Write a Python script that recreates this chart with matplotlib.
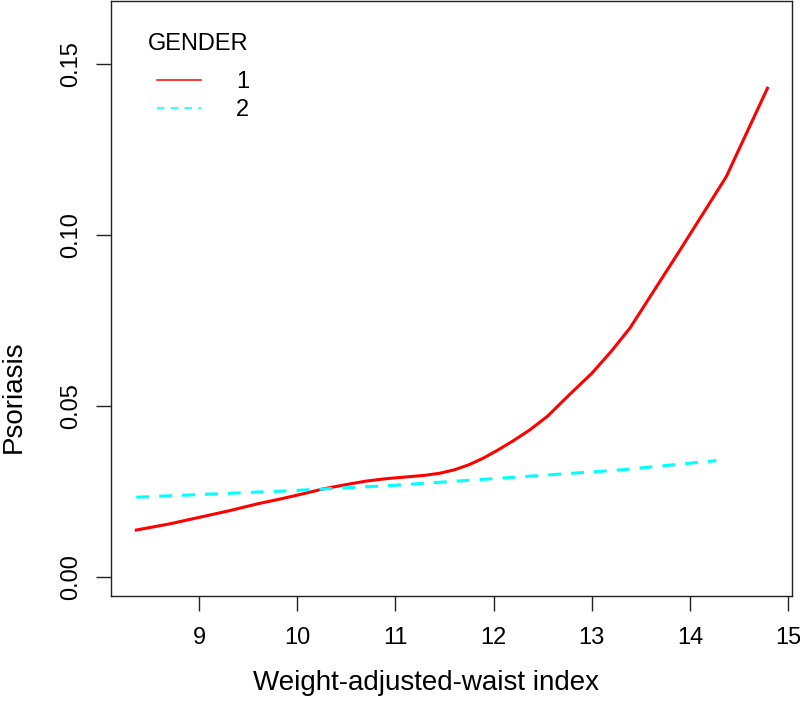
import numpy as np
import matplotlib
matplotlib.use("Agg")
import matplotlib.pyplot as plt
from matplotlib.lines import Line2D

plt.rcParams['font.family'] = ['Liberation Sans', 'DejaVu Sans']

# gender 1 (red, solid)
wwi_1 = [8.36, 8.7, 9.0, 9.3, 9.6, 9.83, 10.03, 10.26, 10.5, 10.7, 10.9, 11.1, 11.3,
         11.45, 11.6, 11.75, 11.9, 12.05, 12.2, 12.37, 12.55, 12.78, 13.0, 13.2, 13.39,
         13.9, 14.37, 14.54, 14.79]
psor_1 = [0.0137, 0.0155, 0.0174, 0.0193, 0.0214, 0.0228, 0.0241, 0.0257, 0.0270, 0.0280,
          0.0287, 0.0292, 0.0297, 0.0303, 0.0313, 0.0328, 0.0348, 0.0372, 0.0398, 0.0430,
          0.0470, 0.0535, 0.0595, 0.0660, 0.0728, 0.0956, 0.1170, 0.1275, 0.1429]

# gender 2 (cyan, dashed)
wwi_2 = [8.36, 9.93, 11.0, 12.3, 13.3, 14.27]
psor_2 = [0.0233, 0.0252, 0.0268, 0.0293, 0.0313, 0.0340]

xticks = [9, 10, 11, 12, 13, 14, 15]
yticks = [0.00, 0.05, 0.10, 0.15]

fig = plt.figure(figsize=(8, 7.11), dpi=100)
ax = fig.add_axes([0.13875, 0.1617, 0.85125, 0.8369])

ax.plot(wwi_1, psor_1, color='red', lw=2.2)
ln2, = ax.plot(wwi_2, psor_2, color='cyan', lw=2.2)
ln2.set_dashes([4.2, 3.3])

ax.set_xlim(8.102, 15.04)
ax.set_ylim(-0.0056, 0.1684)
ax.set_xticks(xticks)
ax.set_xticklabels([str(t) for t in xticks])
ax.set_yticks(yticks)
ax.set_yticklabels(['%.2f' % t for t in yticks], rotation=90, va='center')

for s in ax.spines.values():
    s.set_linewidth(1.0)
    s.set_color('#222222')

ax.tick_params(axis='both', length=10.5, width=1.0, color='#222222')
ax.tick_params(axis='x', labelsize=17, pad=12)
ax.tick_params(axis='y', labelsize=17, pad=10)

ax.set_xlabel('Weight-adjusted-waist index', fontsize=20)
ax.xaxis.set_label_coords(0.4623, -0.1244)
ax.set_ylabel('Psoriasis', fontsize=20)
ax.yaxis.set_label_coords(-0.124, 0.3353)

# legend (R style: title, thin handles)
ax.text(0.0543, 0.9277, 'GENDER', transform=ax.transAxes, fontsize=17, va='center', ha='left')
h1 = Line2D([], [], color='red', lw=1.1)
h2 = Line2D([], [], color='cyan', lw=1.1, dashes=[5, 4])
ax.legend([h1, h2], ['1', '2'], loc='upper left', frameon=False, fontsize=17,
          handlelength=1.86, handletextpad=1.5, labelspacing=0.24, borderpad=0,
          borderaxespad=0, bbox_to_anchor=(0.0675, 0.8816))

fig.savefig('out.png', dpi=100)
